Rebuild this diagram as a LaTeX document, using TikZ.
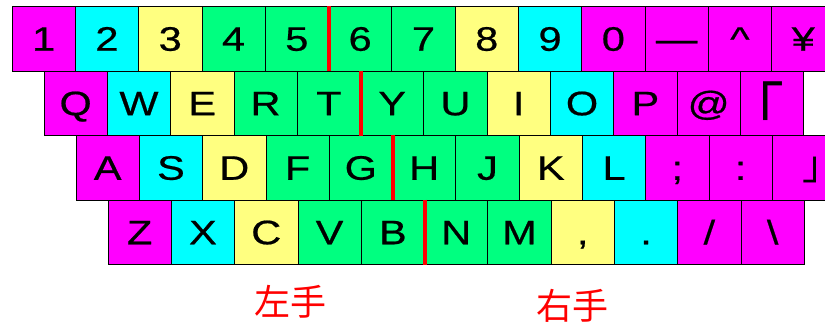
\documentclass[tikz,border=0pt]{standalone}
\usepackage{fontspec}
\setmainfont{Liberation Sans}[FakeStretch=1.22, FakeBold=0.6]
\newfontfamily\cjk{Noto Sans CJK JP}
\definecolor{mg}{RGB}{255,0,255}
\definecolor{cy}{RGB}{0,255,255}
\definecolor{ye}{RGB}{255,255,128}
\definecolor{gr}{RGB}{0,255,128}
\tikzset{key/.style={draw, rectangle, line width=0.8pt, minimum width=63.3pt, minimum height=64.5pt, inner sep=0pt, font=\fontsize{34}{34}\selectfont, text height=24pt, text depth=0pt}}
\tikzset{cut/.style={red, line width=3.5pt}}
\tikzset{hand/.style={red, font=\cjk\fontsize{36}{36}\selectfont}}
\newcommand\brk[2]{{\cjk\fontsize{#1}{#1}\selectfont #2}}

\begin{document}
\begin{tikzpicture}[x=1pt, y=-1pt]
\useasboundingbox (0,0) rectangle (825,326);
\clip (0,0) rectangle (825,326);
% row 1
\foreach \t/\c [count=\i] in {1/mg, 2/cy, 3/ye, 4/gr, 5/gr, 6/gr, 7/gr, 8/ye, 9/cy, 0/mg, —/mg, \textasciicircum/mg, ¥/mg}
  \node[key, fill=\c] (r1-\i) at ({12+(\i-0.5)*63.3}, 38.75) {\t};
% row 2
\foreach \t/\c [count=\i] in {Q/mg, W/cy, E/ye, R/gr, T/gr, Y/gr, U/gr, I/ye, O/cy, P/mg, @/mg, {\kern-34pt\raisebox{-17pt}{\brk{60}{「}}}/mg}
  \node[key, fill=\c] (r2-\i) at ({44+(\i-0.5)*63.3}, 103.25) {\t};
% row 3
\foreach \t/\c [count=\i] in {A/mg, S/cy, D/ye, F/gr, G/gr, H/gr, J/gr, K/ye, L/cy, ;/mg, :/mg, {\brk{40}{」}\kern-37pt}/mg}
  \node[key, fill=\c] (r3-\i) at ({76+(\i-0.5)*63.3}, 167.75) {\t};
% row 4
\foreach \t/\c [count=\i] in {Z/mg, X/cy, C/ye, V/gr, B/gr, N/gr, M/gr, {,}/ye, ./cy, {/}/mg, \textbackslash/mg}
  \node[key, fill=\c] (r4-\i) at ({108+(\i-0.5)*63.3}, 232.25) {\t};
% left / right hand border
\foreach \r in {1,...,4}
  \draw[cut] (r\r-5.north east) -- (r\r-5.south east);
\node[hand] (left) at (290,302) {左手};
\node[hand] (right) at (572,306) {右手};
\end{tikzpicture}
\end{document}
